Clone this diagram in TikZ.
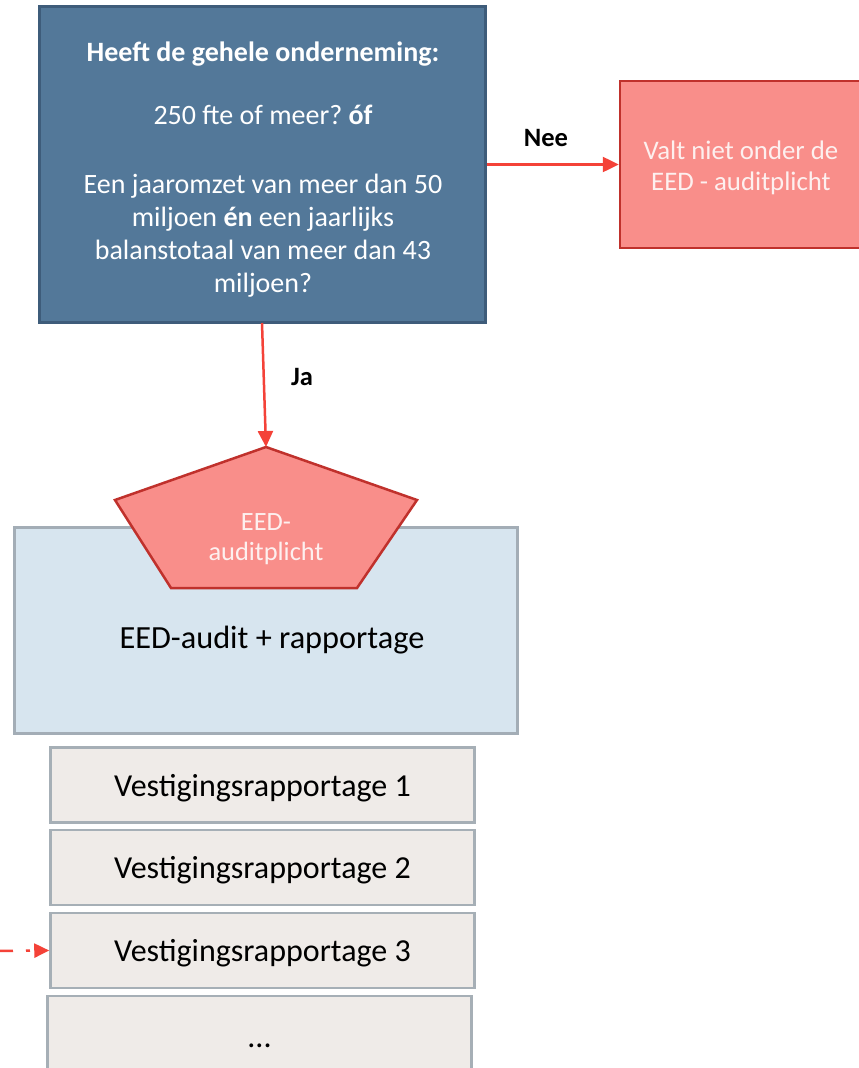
\documentclass[tikz,border=0pt]{standalone}
\usepackage{fontspec}
\setmainfont{Carlito}
\usetikzlibrary{arrows.meta}
\frenchspacing
\definecolor{qfill}{RGB}{83,120,153}
\definecolor{qdraw}{RGB}{62,92,122}
\definecolor{rfill}{RGB}{249,142,138}
\definecolor{rdraw}{RGB}{192,49,44}
\definecolor{arr}{RGB}{244,66,56}
\definecolor{bfill}{RGB}{215,229,239}
\definecolor{bdraw}{RGB}{163,173,182}
\definecolor{gfill}{RGB}{239,235,232}
\definecolor{gdraw}{RGB}{166,175,182}
\definecolor{wtext}{RGB}{253,240,239}
\tikzset{
  x=1pt, y=-1pt,
  box/.style={rectangle, inner sep=0pt, anchor=center},
  vbox/.style={box, fill=gfill, draw=gdraw, line width=2.5pt, minimum width=424pt, minimum height=75pt,
    font=\fontsize{32}{38}\selectfont, text depth=2pt, text height=24pt},
  redarrow/.style={draw=arr, line width=2.5pt, -{Triangle[length=16pt,width=15pt]}},
  lbl/.style={font=\fontsize{26.5}{30}\selectfont\bfseries, text=black},
}
\begin{document}
\begin{tikzpicture}
\useasboundingbox (0,0) rectangle (859,1068);
\clip (0,0) rectangle (859,1068);
\fill[white] (0,0) rectangle (859,1068);
% top question box
\node[box, fill=qfill, draw=qdraw, line width=2.5pt, minimum width=446pt, minimum height=316pt] (q) at (262.5,164.5) {};
\node[align=center, text=white, inner sep=0pt, font=\fontsize{28}{33}\selectfont] (qtext) at (263,170)
  {\textbf{Heeft de gehele onderneming:}\\[30pt]
   250 fte of meer? \textbf{óf}\\[36pt]
   Een jaaromzet van meer dan 50\\
   miljoen \textbf{én} een jaarlijks\\
   balanstotaal van meer dan 43\\
   miljoen?};
% red box right
\node[box, fill=rfill, draw=rdraw, line width=2.5pt, minimum width=242pt, minimum height=167pt] (nee) at (741,164.5) {};
\node[align=center, text=wtext, inner sep=0pt, font=\fontsize{26.8}{31}\selectfont] (neetext) at (741,168)
  {Valt niet onder de\\EED - auditplicht};
\draw[redarrow] (q.east) -- (nee.west);
\node[lbl] (neelbl) at (546,138) {Nee};
% light blue box
\node[box, fill=bfill, draw=bdraw, line width=3pt, minimum width=503pt, minimum height=206pt] (audit) at (265.5,630) {};
\node[inner sep=0pt, font=\fontsize{32.3}{38}\selectfont] (audittext) at (272,640) {EED-audit + rapportage};
% pentagon
\coordinate (ptop) at (266,447);
\draw[fill=rfill, draw=rdraw, line width=2.5pt, line join=miter]
  (ptop) -- (417,500) -- (357,588) -- (171,588) -- (115,500) -- cycle;
\node[align=center, text=wtext, inner sep=0pt, font=\fontsize{26.4}{30}\selectfont] (plicht) at (266,539) {EED-\\auditplicht};
\coordinate (qbot) at (262,323);
\draw[redarrow] (qbot) -- (ptop);
\node[lbl] (jalbl) at (302,377) {Ja};
% establishment boxes
\node[vbox] (v1) at (262.5,785) {Vestigingsrapportage 1};
\node[vbox] (v2) at (262.5,867.5) {Vestigingsrapportage 2};
\node[vbox] (v3) at (262.5,950.5) {Vestigingsrapportage 3};
\node[vbox, minimum height=80pt] (v4) at (259.5,1036) {...};
\coordinate (dstart) at (-14,951);
\draw[draw=arr, line width=2.5pt, dash pattern=on 13pt off 13pt on 4pt off 14pt, dash phase=30pt, -{Triangle[length=15pt,width=14pt]}] (dstart) -- (v3.west);
\end{tikzpicture}
\end{document}
